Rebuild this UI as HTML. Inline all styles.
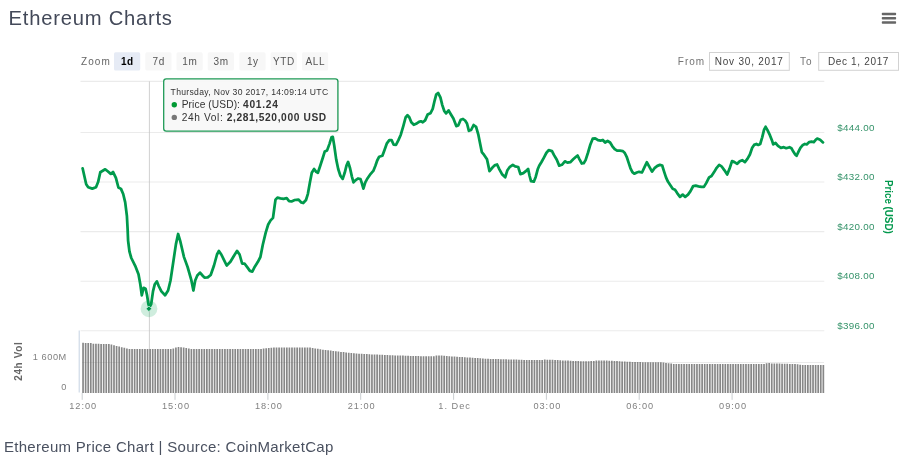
<!DOCTYPE html>
<html lang="en">
<head>
<meta charset="utf-8">
<title>Ethereum Charts</title>
<style>
html,body{margin:0;padding:0;background:#fff;}
body{width:912px;height:471px;overflow:hidden;font-family:"Liberation Sans",sans-serif;}
svg{display:block;position:absolute;left:0;top:0;will-change:transform;}
svg text{font-family:"Liberation Sans",sans-serif;}
</style>
</head>
<body>
<svg width="912" height="471" viewBox="0 0 912 471">
<rect width="912" height="471" fill="#fff"/>
<text id="title" x="8.6" y="25.2" font-size="20.2" fill="#434959" letter-spacing="0.77">Ethereum Charts</text>
<g fill="#666"><rect x="881.8" y="12.8" width="14.3" height="2.4" rx="0.7"/><rect x="881.8" y="17.1" width="14.3" height="2.4" rx="0.7"/><rect x="881.8" y="21.3" width="14.3" height="2.4" rx="0.7"/></g>
<g font-size="10" fill="#555">
<text id="zoomlbl" x="81" y="64.6" fill="#666" letter-spacing="1.1">Zoom</text>
<rect x="114" y="52.3" width="26.2" height="18.2" rx="1.6" fill="#e6ebf5"/><text x="127.4" y="64.6" text-anchor="middle" letter-spacing="0.6" font-weight="bold" fill="#000">1d</text><rect x="145.3" y="52.3" width="26.2" height="18.2" rx="1.6" fill="#f7f7f7"/><text x="158.70000000000002" y="64.6" text-anchor="middle" letter-spacing="0.6">7d</text><rect x="176.5" y="52.3" width="26.2" height="18.2" rx="1.6" fill="#f7f7f7"/><text x="189.9" y="64.6" text-anchor="middle" letter-spacing="0.6">1m</text><rect x="207.7" y="52.3" width="26.2" height="18.2" rx="1.6" fill="#f7f7f7"/><text x="221.1" y="64.6" text-anchor="middle" letter-spacing="0.6">3m</text><rect x="239.4" y="52.3" width="26.2" height="18.2" rx="1.6" fill="#f7f7f7"/><text x="252.8" y="64.6" text-anchor="middle" letter-spacing="0.6">1y</text><rect x="270.6" y="52.3" width="26.2" height="18.2" rx="1.6" fill="#f7f7f7"/><text x="284.0" y="64.6" text-anchor="middle" letter-spacing="0.6">YTD</text><rect x="302" y="52.3" width="26.2" height="18.2" rx="1.6" fill="#f7f7f7"/><text x="315.4" y="64.6" text-anchor="middle" letter-spacing="0.6">ALL</text>
<text id="fromlbl" x="677.8" y="64.6" fill="#747474" letter-spacing="1">From</text>
<rect x="709.5" y="52.5" width="79.8" height="17.8" fill="#fff" stroke="#d2d2d2" stroke-width="1"/>
<text id="date1" x="749.2" y="64.6" text-anchor="middle" fill="#444" letter-spacing="0.78">Nov 30, 2017</text>
<text id="tolbl" x="800" y="64.6" fill="#747474" letter-spacing="1">To</text>
<rect x="818.7" y="52.5" width="79.8" height="17.8" fill="#fff" stroke="#d2d2d2" stroke-width="1"/>
<text id="date2" x="858.5" y="64.6" text-anchor="middle" fill="#444" letter-spacing="0.66">Dec 1, 2017</text>
</g>
<g stroke="#ebebeb" stroke-width="1.1" fill="none"><path d="M80.5 81.4H824.3"/><path d="M80.5 132.5H824.3"/><path d="M80.5 182.06H824.3"/><path d="M80.5 231.6H824.3"/><path d="M80.5 281.2H824.3"/><path d="M80.5 330.75H824.3"/></g>
<path d="M149.4 81.4V392.5" stroke="#c4c4c4" stroke-width="0.8" fill="none"/>
<path d="M79.2 330.5V392.5" stroke="#c6d3e3" stroke-width="1" fill="none"/>
<g stroke="#c4c8cc" stroke-width="0.9" fill="none"><path d="M82.2 392.9V399.8"/><path d="M175.0 392.9V399.8"/><path d="M267.9 392.9V399.8"/><path d="M360.7 392.9V399.8"/><path d="M453.6 392.9V399.8"/><path d="M546.4 392.9V399.8"/><path d="M639.2 392.9V399.8"/><path d="M732.1 392.9V399.8"/></g>
<path d="M82.20 392.9V342.8h1.7V392.9zM84.78 392.9V342.9h1.7V392.9zM87.36 392.9V342.9h1.7V392.9zM89.94 392.9V343.0h1.7V392.9zM92.52 392.9V343.8h1.7V392.9zM95.10 392.9V343.8h1.7V392.9zM97.68 392.9V343.8h1.7V392.9zM100.26 392.9V343.9h1.7V392.9zM102.84 392.9V343.9h1.7V392.9zM105.41 392.9V343.9h1.7V392.9zM107.99 392.9V343.9h1.7V392.9zM110.57 392.9V344.5h1.7V392.9zM113.15 392.9V345.3h1.7V392.9zM115.73 392.9V345.9h1.7V392.9zM118.31 392.9V346.6h1.7V392.9zM120.89 392.9V347.2h1.7V392.9zM123.47 392.9V347.8h1.7V392.9zM126.05 392.9V348.5h1.7V392.9zM128.63 392.9V349.1h1.7V392.9zM131.21 392.9V349.1h1.7V392.9zM133.79 392.9V349.1h1.7V392.9zM136.37 392.9V349.1h1.7V392.9zM138.95 392.9V349.1h1.7V392.9zM141.53 392.9V349.1h1.7V392.9zM144.11 392.9V349.1h1.7V392.9zM146.69 392.9V349.1h1.7V392.9zM149.27 392.9V349.1h1.7V392.9zM151.84 392.9V349.0h1.7V392.9zM154.42 392.9V349.0h1.7V392.9zM157.00 392.9V349.0h1.7V392.9zM159.58 392.9V349.0h1.7V392.9zM162.16 392.9V349.0h1.7V392.9zM164.74 392.9V349.0h1.7V392.9zM167.32 392.9V349.0h1.7V392.9zM169.90 392.9V349.0h1.7V392.9zM172.48 392.9V348.5h1.7V392.9zM175.06 392.9V347.5h1.7V392.9zM177.64 392.9V347.0h1.7V392.9zM180.22 392.9V347.2h1.7V392.9zM182.80 392.9V347.6h1.7V392.9zM185.38 392.9V348.0h1.7V392.9zM187.96 392.9V348.5h1.7V392.9zM190.54 392.9V348.9h1.7V392.9zM193.12 392.9V349.0h1.7V392.9zM195.70 392.9V349.0h1.7V392.9zM198.27 392.9V349.0h1.7V392.9zM200.85 392.9V349.0h1.7V392.9zM203.43 392.9V349.0h1.7V392.9zM206.01 392.9V349.0h1.7V392.9zM208.59 392.9V349.0h1.7V392.9zM211.17 392.9V349.0h1.7V392.9zM213.75 392.9V349.0h1.7V392.9zM216.33 392.9V349.0h1.7V392.9zM218.91 392.9V349.0h1.7V392.9zM221.49 392.9V349.0h1.7V392.9zM224.07 392.9V349.0h1.7V392.9zM226.65 392.9V349.0h1.7V392.9zM229.23 392.9V349.0h1.7V392.9zM231.81 392.9V349.0h1.7V392.9zM234.39 392.9V349.0h1.7V392.9zM236.97 392.9V349.0h1.7V392.9zM239.55 392.9V349.0h1.7V392.9zM242.13 392.9V349.0h1.7V392.9zM244.70 392.9V349.0h1.7V392.9zM247.28 392.9V349.0h1.7V392.9zM249.86 392.9V349.0h1.7V392.9zM252.44 392.9V349.0h1.7V392.9zM255.02 392.9V349.0h1.7V392.9zM257.60 392.9V349.0h1.7V392.9zM260.18 392.9V348.9h1.7V392.9zM262.76 392.9V348.6h1.7V392.9zM265.34 392.9V348.3h1.7V392.9zM267.92 392.9V348.0h1.7V392.9zM270.50 392.9V347.7h1.7V392.9zM273.08 392.9V347.5h1.7V392.9zM275.66 392.9V347.5h1.7V392.9zM278.24 392.9V347.5h1.7V392.9zM280.82 392.9V347.5h1.7V392.9zM283.40 392.9V347.5h1.7V392.9zM285.98 392.9V347.5h1.7V392.9zM288.56 392.9V347.5h1.7V392.9zM291.13 392.9V347.5h1.7V392.9zM293.71 392.9V347.5h1.7V392.9zM296.29 392.9V347.5h1.7V392.9zM298.87 392.9V347.5h1.7V392.9zM301.45 392.9V347.5h1.7V392.9zM304.03 392.9V347.5h1.7V392.9zM306.61 392.9V347.5h1.7V392.9zM309.19 392.9V347.5h1.7V392.9zM311.77 392.9V347.9h1.7V392.9zM314.35 392.9V348.4h1.7V392.9zM316.93 392.9V348.8h1.7V392.9zM319.51 392.9V349.2h1.7V392.9zM322.09 392.9V349.7h1.7V392.9zM324.67 392.9V350.0h1.7V392.9zM327.25 392.9V350.3h1.7V392.9zM329.83 392.9V350.6h1.7V392.9zM332.41 392.9V351.0h1.7V392.9zM334.99 392.9V351.3h1.7V392.9zM337.56 392.9V351.6h1.7V392.9zM340.14 392.9V351.9h1.7V392.9zM342.72 392.9V352.1h1.7V392.9zM345.30 392.9V352.4h1.7V392.9zM347.88 392.9V352.7h1.7V392.9zM350.46 392.9V352.9h1.7V392.9zM353.04 392.9V353.2h1.7V392.9zM355.62 392.9V353.4h1.7V392.9zM358.20 392.9V353.7h1.7V392.9zM360.78 392.9V353.8h1.7V392.9zM363.36 392.9V354.0h1.7V392.9zM365.94 392.9V354.1h1.7V392.9zM368.52 392.9V354.2h1.7V392.9zM371.10 392.9V354.4h1.7V392.9zM373.68 392.9V354.5h1.7V392.9zM376.26 392.9V354.6h1.7V392.9zM378.84 392.9V354.7h1.7V392.9zM381.42 392.9V354.8h1.7V392.9zM383.99 392.9V354.9h1.7V392.9zM386.57 392.9V355.1h1.7V392.9zM389.15 392.9V355.2h1.7V392.9zM391.73 392.9V355.3h1.7V392.9zM394.31 392.9V355.4h1.7V392.9zM396.89 392.9V355.5h1.7V392.9zM399.47 392.9V355.6h1.7V392.9zM402.05 392.9V355.6h1.7V392.9zM404.63 392.9V355.7h1.7V392.9zM407.21 392.9V355.8h1.7V392.9zM409.79 392.9V355.9h1.7V392.9zM412.37 392.9V356.0h1.7V392.9zM414.95 392.9V356.0h1.7V392.9zM417.53 392.9V356.1h1.7V392.9zM420.11 392.9V356.2h1.7V392.9zM422.69 392.9V356.2h1.7V392.9zM425.27 392.9V356.2h1.7V392.9zM427.85 392.9V356.2h1.7V392.9zM430.42 392.9V356.2h1.7V392.9zM433.00 392.9V356.2h1.7V392.9zM435.58 392.9V355.6h1.7V392.9zM438.16 392.9V355.5h1.7V392.9zM440.74 392.9V355.6h1.7V392.9zM443.32 392.9V355.8h1.7V392.9zM445.90 392.9V356.0h1.7V392.9zM448.48 392.9V356.2h1.7V392.9zM451.06 392.9V356.4h1.7V392.9zM453.64 392.9V356.5h1.7V392.9zM456.22 392.9V356.7h1.7V392.9zM458.80 392.9V356.9h1.7V392.9zM461.38 392.9V357.1h1.7V392.9zM463.96 392.9V357.2h1.7V392.9zM466.54 392.9V357.4h1.7V392.9zM469.12 392.9V357.6h1.7V392.9zM471.70 392.9V357.8h1.7V392.9zM474.28 392.9V357.9h1.7V392.9zM476.85 392.9V358.1h1.7V392.9zM479.43 392.9V358.3h1.7V392.9zM482.01 392.9V358.5h1.7V392.9zM484.59 392.9V358.7h1.7V392.9zM487.17 392.9V358.8h1.7V392.9zM489.75 392.9V358.9h1.7V392.9zM492.33 392.9V358.9h1.7V392.9zM494.91 392.9V359.0h1.7V392.9zM497.49 392.9V359.1h1.7V392.9zM500.07 392.9V359.2h1.7V392.9zM502.65 392.9V359.3h1.7V392.9zM505.23 392.9V359.3h1.7V392.9zM507.81 392.9V359.4h1.7V392.9zM510.39 392.9V359.5h1.7V392.9zM512.97 392.9V359.6h1.7V392.9zM515.55 392.9V359.6h1.7V392.9zM518.13 392.9V359.7h1.7V392.9zM520.71 392.9V359.8h1.7V392.9zM523.28 392.9V359.9h1.7V392.9zM525.86 392.9V360.0h1.7V392.9zM528.44 392.9V360.0h1.7V392.9zM531.02 392.9V360.0h1.7V392.9zM533.60 392.9V360.0h1.7V392.9zM536.18 392.9V360.0h1.7V392.9zM538.76 392.9V360.0h1.7V392.9zM541.34 392.9V360.0h1.7V392.9zM543.92 392.9V359.6h1.7V392.9zM546.50 392.9V359.7h1.7V392.9zM549.08 392.9V359.7h1.7V392.9zM551.66 392.9V359.8h1.7V392.9zM554.24 392.9V360.0h1.7V392.9zM556.82 392.9V360.1h1.7V392.9zM559.40 392.9V360.2h1.7V392.9zM561.98 392.9V360.4h1.7V392.9zM564.56 392.9V360.5h1.7V392.9zM567.14 392.9V360.6h1.7V392.9zM569.71 392.9V360.7h1.7V392.9zM572.29 392.9V360.9h1.7V392.9zM574.87 392.9V361.0h1.7V392.9zM577.45 392.9V361.1h1.7V392.9zM580.03 392.9V361.2h1.7V392.9zM582.61 392.9V361.2h1.7V392.9zM585.19 392.9V361.2h1.7V392.9zM587.77 392.9V361.2h1.7V392.9zM590.35 392.9V361.1h1.7V392.9zM592.93 392.9V360.9h1.7V392.9zM595.51 392.9V360.6h1.7V392.9zM598.09 392.9V360.4h1.7V392.9zM600.67 392.9V360.5h1.7V392.9zM603.25 392.9V360.5h1.7V392.9zM605.83 392.9V360.6h1.7V392.9zM608.41 392.9V360.7h1.7V392.9zM610.99 392.9V360.8h1.7V392.9zM613.57 392.9V361.0h1.7V392.9zM616.14 392.9V361.1h1.7V392.9zM618.72 392.9V361.2h1.7V392.9zM621.30 392.9V361.4h1.7V392.9zM623.88 392.9V361.5h1.7V392.9zM626.46 392.9V361.7h1.7V392.9zM629.04 392.9V361.8h1.7V392.9zM631.62 392.9V362.0h1.7V392.9zM634.20 392.9V362.1h1.7V392.9zM636.78 392.9V362.1h1.7V392.9zM639.36 392.9V362.1h1.7V392.9zM641.94 392.9V362.2h1.7V392.9zM644.52 392.9V362.2h1.7V392.9zM647.10 392.9V362.2h1.7V392.9zM649.68 392.9V362.2h1.7V392.9zM652.26 392.9V362.2h1.7V392.9zM654.84 392.9V362.3h1.7V392.9zM657.42 392.9V362.3h1.7V392.9zM660.00 392.9V362.3h1.7V392.9zM662.57 392.9V362.6h1.7V392.9zM665.15 392.9V362.9h1.7V392.9zM667.73 392.9V363.3h1.7V392.9zM670.31 392.9V363.6h1.7V392.9zM672.89 392.9V363.9h1.7V392.9zM675.47 392.9V364.0h1.7V392.9zM678.05 392.9V364.0h1.7V392.9zM680.63 392.9V364.0h1.7V392.9zM683.21 392.9V364.0h1.7V392.9zM685.79 392.9V364.0h1.7V392.9zM688.37 392.9V364.0h1.7V392.9zM690.95 392.9V364.0h1.7V392.9zM693.53 392.9V364.0h1.7V392.9zM696.11 392.9V364.0h1.7V392.9zM698.69 392.9V364.0h1.7V392.9zM701.27 392.9V364.0h1.7V392.9zM703.85 392.9V364.0h1.7V392.9zM706.43 392.9V364.0h1.7V392.9zM709.00 392.9V364.0h1.7V392.9zM711.58 392.9V364.0h1.7V392.9zM714.16 392.9V364.0h1.7V392.9zM716.74 392.9V364.0h1.7V392.9zM719.32 392.9V364.0h1.7V392.9zM721.90 392.9V364.0h1.7V392.9zM724.48 392.9V364.0h1.7V392.9zM727.06 392.9V364.0h1.7V392.9zM729.64 392.9V364.0h1.7V392.9zM732.22 392.9V364.0h1.7V392.9zM734.80 392.9V364.0h1.7V392.9zM737.38 392.9V364.0h1.7V392.9zM739.96 392.9V364.0h1.7V392.9zM742.54 392.9V364.0h1.7V392.9zM745.12 392.9V364.0h1.7V392.9zM747.70 392.9V364.0h1.7V392.9zM750.28 392.9V364.0h1.7V392.9zM752.86 392.9V364.0h1.7V392.9zM755.43 392.9V364.0h1.7V392.9zM758.01 392.9V364.0h1.7V392.9zM760.59 392.9V364.0h1.7V392.9zM763.17 392.9V364.0h1.7V392.9zM765.75 392.9V363.3h1.7V392.9zM768.33 392.9V363.1h1.7V392.9zM770.91 392.9V363.4h1.7V392.9zM773.49 392.9V363.5h1.7V392.9zM776.07 392.9V363.5h1.7V392.9zM778.65 392.9V363.6h1.7V392.9zM781.23 392.9V363.7h1.7V392.9zM783.81 392.9V363.7h1.7V392.9zM786.39 392.9V363.8h1.7V392.9zM788.97 392.9V363.9h1.7V392.9zM791.55 392.9V363.9h1.7V392.9zM794.13 392.9V364.0h1.7V392.9zM796.71 392.9V364.3h1.7V392.9zM799.29 392.9V364.7h1.7V392.9zM801.86 392.9V364.9h1.7V392.9zM804.44 392.9V364.9h1.7V392.9zM807.02 392.9V364.9h1.7V392.9zM809.60 392.9V364.9h1.7V392.9zM812.18 392.9V364.9h1.7V392.9zM814.76 392.9V364.9h1.7V392.9zM817.34 392.9V364.9h1.7V392.9zM819.92 392.9V364.9h1.7V392.9zM822.50 392.9V364.9h1.7V392.9z" fill="#878787"/>
<path d="M82.2 362.5H824" stroke="#6a6a6a" stroke-width="0.8" opacity="0.18" fill="none"/>
<circle cx="149" cy="308.8" r="8.4" fill="#00a050" fill-opacity="0.19"/>
<path d="M82.6 168.3 L84.4 176.3 L86.2 184.2 L88.2 187.2 L92.3 188.6 L96.0 187.2 L98.1 182.1 L100.3 172.2 L105.2 169.3 L107.4 171.0 L110.8 173.9 L113.0 171.9 L115.9 177.8 L118.4 187.5 L121.0 188.9 L123.2 194.0 L125.2 202.4 L126.9 216.0 L127.6 229.0 L128.1 240.8 L129.5 251.7 L131.3 258.0 L135.3 266.1 L138.5 274.2 L140.3 284.2 L141.8 295.3 L143.6 287.8 L145.6 288.7 L147.0 295.0 L148.4 304.0 L149.5 307.2 L151.2 304.0 L153.0 291.4 L154.8 284.2 L156.9 281.4 L158.7 286.0 L161.4 291.4 L165.1 295.3 L168.1 290.5 L170.5 280.5 L173.2 262.5 L175.9 244.4 L178.1 234.0 L180.4 241.7 L184.0 257.1 L187.6 267.0 L191.2 279.6 L193.4 290.5 L195.2 280.5 L197.3 275.5 L200.0 272.6 L202.5 275.5 L204.5 277.7 L207.7 277.4 L210.7 275.0 L214.0 265.5 L217.0 254.5 L218.9 250.9 L221.3 254.5 L224.3 260.6 L226.7 265.5 L230.4 261.8 L234.0 255.7 L237.0 250.9 L239.6 254.5 L242.1 263.5 L244.5 263.5 L247.4 267.4 L249.9 270.9 L252.3 271.6 L254.8 266.7 L257.9 261.8 L260.4 257.0 L262.8 244.8 L265.7 232.6 L268.2 224.5 L270.6 220.4 L273.0 217.9 L274.3 208.2 L275.5 199.6 L277.4 197.7 L280.4 198.4 L283.5 198.9 L286.7 198.2 L289.1 201.2 L291.5 201.4 L294.7 200.0 L298.4 199.6 L301.3 202.4 L303.2 203.0 L306.0 200.0 L307.9 193.8 L309.9 182.4 L311.8 172.8 L314.1 169.0 L316.2 171.8 L317.9 172.8 L320.4 165.2 L322.9 157.5 L324.8 151.4 L327.1 150.4 L329.4 144.1 L331.5 137.4 L332.8 136.9 L334.3 146.0 L336.2 159.4 L338.2 169.0 L340.4 175.7 L342.7 178.9 L344.7 172.8 L346.6 165.2 L348.1 161.9 L350.0 168.0 L351.9 176.6 L353.5 182.4 L355.4 180.4 L358.0 178.5 L360.5 179.1 L361.9 183.3 L363.4 188.7 L365.3 182.4 L367.6 178.2 L370.7 173.8 L373.3 170.9 L375.5 165.5 L377.2 160.5 L379.2 156.7 L382.4 155.8 L384.7 149.5 L386.9 143.3 L389.3 140.1 L391.6 140.1 L393.7 144.7 L396.0 144.8 L398.3 140.4 L400.8 134.7 L403.3 126.1 L405.6 117.5 L407.5 115.2 L409.4 117.5 L411.3 122.3 L413.8 124.8 L416.1 123.8 L419.0 121.9 L420.9 121.3 L422.8 122.3 L425.1 120.4 L427.6 114.6 L430.4 113.3 L432.7 108.9 L434.7 100.3 L436.2 94.6 L438.1 93.0 L440.4 97.4 L442.3 105.1 L444.2 110.8 L446.1 113.3 L448.6 110.4 L450.5 113.7 L453.4 118.5 L456.3 126.1 L458.2 125.5 L460.7 119.8 L463.0 119.0 L465.1 120.5 L467.0 123.5 L468.9 130.8 L471.1 130.0 L473.6 125.0 L476.1 126.8 L478.4 134.9 L480.3 144.4 L481.8 152.1 L484.1 154.9 L487.0 159.3 L488.3 165.4 L489.5 171.2 L491.8 168.3 L494.6 165.4 L497.1 164.5 L499.4 169.3 L502.3 174.6 L505.2 177.3 L507.4 170.2 L509.9 166.8 L512.8 164.9 L515.1 166.4 L518.2 167.0 L520.4 174.1 L523.3 173.1 L525.8 171.2 L528.1 168.9 L529.6 176.0 L531.0 181.1 L533.8 181.7 L535.7 176.9 L537.7 169.3 L539.2 165.8 L541.5 162.0 L543.8 157.8 L546.3 153.0 L548.7 150.2 L552.0 151.1 L553.9 154.9 L556.8 159.8 L559.2 165.6 L561.9 164.8 L564.9 161.3 L567.4 162.6 L570.3 162.2 L573.2 159.3 L576.0 156.8 L577.6 155.5 L579.5 159.3 L581.8 163.5 L583.7 163.2 L585.6 160.1 L587.9 153.0 L590.4 144.4 L592.7 138.7 L595.2 138.3 L598.0 140.2 L600.5 140.6 L602.8 140.0 L605.1 142.5 L607.6 141.0 L610.1 142.5 L612.4 146.3 L614.7 149.2 L617.1 150.7 L620.0 150.7 L622.9 151.1 L624.8 153.0 L626.7 156.8 L628.6 162.6 L630.5 168.3 L632.4 172.1 L634.3 173.7 L636.8 172.5 L639.1 171.8 L642.0 172.5 L644.5 167.2 L646.8 162.3 L649.4 166.9 L652.0 171.6 L654.5 168.2 L657.4 165.9 L659.9 164.9 L662.2 165.5 L664.1 171.6 L666.0 177.4 L667.9 181.6 L670.2 185.0 L672.7 188.8 L675.0 189.8 L677.5 193.6 L680.0 196.9 L682.7 194.6 L685.2 196.9 L688.0 194.6 L690.5 191.1 L693.2 186.0 L695.7 185.6 L698.5 186.3 L701.4 186.9 L703.9 186.9 L706.2 183.1 L709.1 177.4 L711.5 176.0 L713.8 172.6 L716.7 167.8 L719.2 164.9 L721.5 166.3 L724.3 170.1 L727.2 174.5 L729.5 168.8 L732.0 161.1 L734.5 162.1 L737.2 163.8 L739.7 161.2 L742.2 160.2 L744.9 162.1 L747.4 158.9 L749.9 154.5 L752.2 147.8 L754.1 144.9 L756.4 144.0 L758.3 144.9 L760.2 144.0 L762.2 137.3 L764.1 129.6 L765.6 126.8 L767.5 130.2 L770.0 135.4 L771.9 140.2 L773.2 144.4 L775.5 143.0 L778.0 145.9 L780.9 147.8 L783.8 147.2 L786.2 148.2 L789.5 147.2 L791.4 148.2 L793.3 151.6 L795.2 154.5 L796.6 155.8 L798.5 151.6 L800.4 147.8 L802.9 144.9 L804.8 144.0 L806.7 144.4 L809.2 142.1 L811.5 141.7 L813.8 142.1 L815.7 139.8 L817.2 138.6 L820.1 139.8 L823.0 142.4" stroke="#009a4c" stroke-width="2.75" fill="none" stroke-linejoin="round" stroke-linecap="round"/>
<path d="M148.9 306l2.8 2.8l-2.8 2.8l-2.8 -2.8z" fill="#00924a" stroke="#c9f0de" stroke-width="0.8"/>
<g font-size="9.8" fill="#35936a" id="ylabels" letter-spacing="0.3"><text x="837.2" y="130.7">$444.00</text><text x="837.2" y="180.2">$432.00</text><text x="837.2" y="229.8">$420.00</text><text x="837.2" y="279.4">$408.00</text><text x="837.2" y="328.9">$396.00</text></g>
<text id="ytitle" transform="translate(885.3 179.9) rotate(90)" font-size="10" font-weight="bold" fill="#00984c" textLength="53.8" lengthAdjust="spacingAndGlyphs">Price (USD)</text>
<text id="vtitle" transform="translate(22.3 380.7) rotate(-90)" font-size="10" font-weight="bold" fill="#666" letter-spacing="0.6">24h Vol</text>
<g font-size="9.2" fill="#808080" text-anchor="end" letter-spacing="0.55"><text x="66.8" y="360.4">1 600M</text><text x="66.8" y="390.4">0</text></g>
<g font-size="9.2" fill="#808080" text-anchor="middle" id="xlabels" letter-spacing="1"><text x="83.2" y="408.8">12:00</text><text x="176.0" y="408.8">15:00</text><text x="268.9" y="408.8">18:00</text><text x="361.7" y="408.8">21:00</text><text x="454.6" y="408.8">1. Dec</text><text x="547.4" y="408.8">03:00</text><text x="640.2" y="408.8">06:00</text><text x="733.1" y="408.8">09:00</text></g>
<g id="tooltip">
<rect x="164.6" y="79.8" width="174.5" height="53" rx="3" fill="#000" fill-opacity="0.05"/>
<rect x="163.7" y="78.8" width="174.2" height="52.4" rx="2.6" fill="#f8f8f8" fill-opacity="0.92" stroke="#1f9a56" stroke-width="1.3"/>
<text id="tt1" x="170.6" y="94.8" font-size="8.6" fill="#333" letter-spacing="0.31">Thursday, Nov 30 2017, 14:09:14 UTC</text>
<circle cx="174.3" cy="104.8" r="2.7" fill="#009933"/>
<text id="tt2" x="181.7" y="107.7" font-size="10.2" fill="#333" letter-spacing="0.1">Price (USD): <tspan font-weight="bold" letter-spacing="0.75">401.24</tspan></text>
<circle cx="174.3" cy="117.4" r="2.7" fill="#777"/>
<text id="tt3" x="181.7" y="120.7" font-size="10.2" fill="#333" letter-spacing="0.6">24h Vol: <tspan font-weight="bold" letter-spacing="0.62">2,281,520,000 USD</tspan></text>
</g>
<text id="caption" x="3.9" y="451.8" font-size="15" fill="#4a5160" letter-spacing="0.3">Ethereum Price Chart | Source: CoinMarketCap</text>
</svg>
</body>
</html>
